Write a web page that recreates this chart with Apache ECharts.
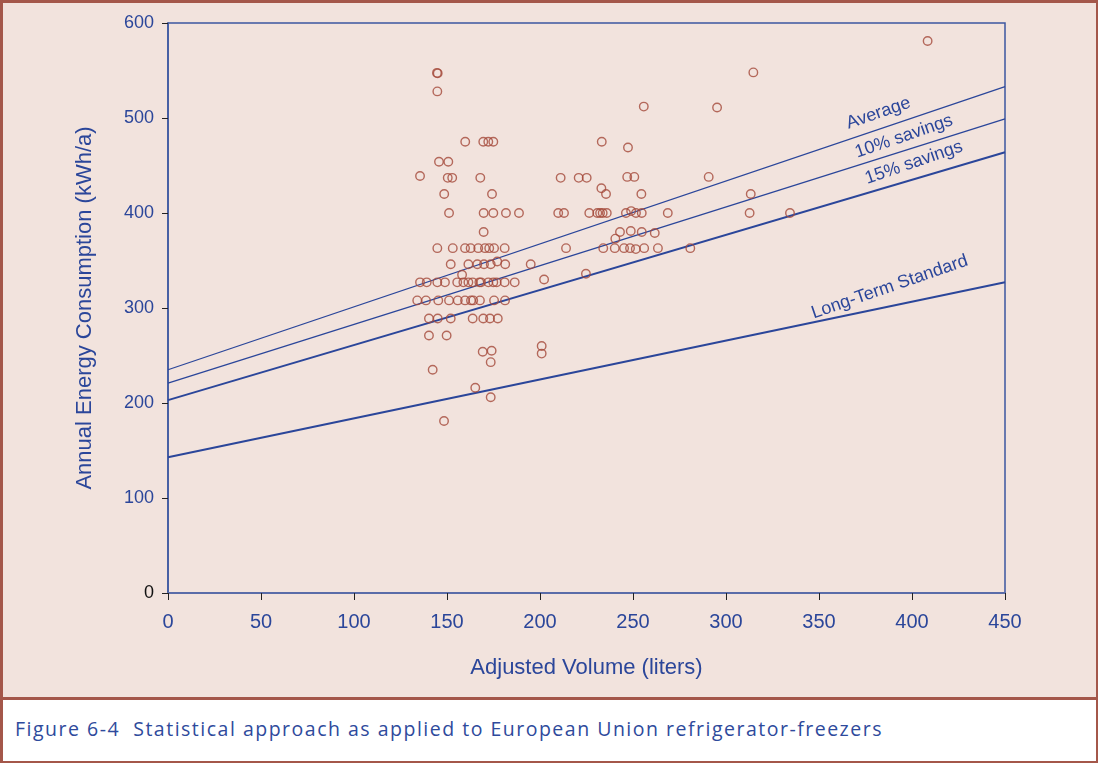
<!DOCTYPE html>
<html>
<head>
<meta charset="utf-8">
<script src="https://cdn.jsdelivr.net/npm/echarts@6/dist/echarts.min.js"></script>
<style>
  html, body { margin: 0; padding: 0; background: #fff; }
  #frame {
    position: absolute; left: 0; top: 0;
    width: 1098px; height: 763px; box-sizing: border-box;
    border-top: 3px solid #A4574A; border-left: 3px solid #A4574A;
    border-right: 2px solid #A4574A; border-bottom: 2px solid #A4574A;
  }
  #chart { width: 1093px; height: 694px; background: #F2E3DD; }
  #caption {
    border-top: 3px solid #A4574A;
    height: 61px; box-sizing: border-box;
    padding: 15px 0 0 12px;
    font-family: "Open Sans", "Noto Sans", sans-serif; font-size: 19.5px;
    color: #2E4A9C; letter-spacing: 1.5px;
  }
</style>
</head>
<body>
<div id="frame">
  <div id="chart"></div>
  <div id="caption">Figure 6-4&nbsp;&nbsp;Statistical approach as applied to European Union refrigerator-freezers</div>
</div>
<script>
// scatter points: [adjusted volume (l), annual consumption (kWh/a)]
const models = [
  [144.6, 547.5], [145, 547], [144.8, 528],
  [159.8, 475], [169.5, 475], [172.2, 475], [174.9, 475],
  [145.7, 454], [150.7, 454],
  [135.5, 439], [150.4, 437], [152.8, 437], [167.9, 437],
  [148.5, 420], [174.2, 420],
  [151.1, 400], [169.7, 400], [174.9, 400], [181.7, 400], [188.7, 400], [209.8, 400],
  [169.7, 380],
  [144.8, 363], [153.1, 363], [159.7, 363], [162.7, 363], [166.8, 363], [170.4, 363], [172.7, 363], [175.3, 363], [181.0, 363],
  [152.0, 346], [161.5, 346], [166.3, 346], [169.9, 346], [173.5, 346], [181.3, 346], [195.0, 346],
  [177.0, 349], [158.1, 335],
  [135.5, 327], [139.1, 327], [144.8, 327], [148.9, 327], [155.5, 327], [158.8, 327], [161.5, 327], [163.8, 327],
  [167.4, 327], [168.3, 327], [172.2, 327], [174.9, 327], [176.7, 327], [181.0, 327], [186.4, 327],
  [202.2, 330],
  [134.0, 308], [138.7, 308], [145.3, 308], [151.1, 308], [155.8, 308], [159.7, 308], [162.9, 308], [164.1, 308],
  [167.7, 308], [175.3, 308], [181.2, 308],
  [140.3, 289], [145.0, 289], [152.0, 289], [163.8, 289], [169.5, 289], [173.1, 289], [177.3, 289],
  [140.3, 271], [149.8, 271],
  [169.2, 254], [174.0, 255], [173.5, 243], [200.9, 260], [200.9, 252],
  [142.3, 235], [165.2, 216], [173.5, 206], [148.4, 181],
  [255.8, 512], [233.2, 475], [247.3, 469],
  [211.1, 437], [220.8, 437], [225.1, 437], [246.9, 438], [250.7, 438],
  [233.0, 426], [235.5, 420], [254.5, 420],
  [212.9, 400], [226.5, 400], [230.8, 400], [232.3, 400], [233.7, 400], [235.9, 400],
  [246.2, 400], [249.0, 402], [251.6, 400], [254.7, 400], [268.7, 400],
  [243.0, 380], [248.8, 381], [254.7, 380], [261.7, 379], [240.5, 373],
  [214.0, 363], [234.0, 363], [240.2, 363], [245.2, 363], [248.4, 363], [251.5, 362], [256.0, 363], [263.4, 363], [280.8, 363],
  [224.7, 336],
  [408.4, 581], [314.7, 548], [295.2, 511], [290.7, 438], [313.3, 420], [312.7, 400], [334.4, 400]
];

// regression-style lines, value at volume 0 and 450
const lineX = [0, 450];
const average = [235, 533];
const savings10 = [221, 499];
const savings15 = [203, 464];
const longTerm = [143, 327];

const lineNames = ["Average", "10% savings", "15% savings", "Long-Term Standard"];
const labelAt = [[382, 505], [395.7, 480.5], [401, 453], [388, 322]];

const blue = "#2B469A";
const font = "Liberation Sans, Arial, sans-serif";
const chart = echarts.init(document.getElementById("chart"));

const makeLine = (name, vals, width, idx) => ({
  name: name,
  type: "line",
  data: lineX.map((x, i) => [x, vals[i]]),
  symbol: "none",
  silent: true,
  lineStyle: { color: blue, width: width },
  z: 3,
  markPoint: {
    symbol: "circle",
    symbolSize: 0,
    silent: true,
    data: [{ coord: labelAt[idx] }],
    label: {
      show: true,
      formatter: name,
      rotate: 19,
      color: blue,
      fontFamily: font,
      fontSize: 18,
      position: "inside"
    }
  }
});

const option = {
  animation: false,
  grid: { left: 165, right: 91, top: 20, bottom: 104, show: true, borderColor: "#3D57A0", borderWidth: 1.5 },
  xAxis: {
    type: "value",
    min: 0, max: 450, interval: 50,
    name: "Adjusted Volume (liters)",
    nameLocation: "middle",
    nameGap: 64,
    nameTextStyle: { color: blue, fontSize: 22, fontFamily: font },
    axisLine: { show: true, lineStyle: { color: "#5A6CA8", width: 2 } },
    axisTick: { show: true, length: 7, lineStyle: { color: "#222" } },
    axisLabel: { color: blue, fontSize: 20, margin: 19, fontFamily: font },
    splitLine: { show: false }
  },
  yAxis: {
    type: "value",
    min: 0, max: 600, interval: 100,
    name: "Annual Energy Consumption (kWh/a)",
    nameLocation: "middle",
    nameGap: 72,
    nameTextStyle: { color: blue, fontSize: 22, fontFamily: font },
    axisLine: { show: true, lineStyle: { color: "#3D57A0", width: 1.5 } },
    axisTick: { show: true, length: 6, lineStyle: { color: "#222" } },
    axisLabel: {
      fontSize: 18, margin: 14,
      fontFamily: font,
      color: (v) => (Number(v) === 0 ? "#111" : blue)
    },
    splitLine: { show: false }
  },
  series: [
    makeLine(lineNames[0], average, 1.3, 0),
    makeLine(lineNames[1], savings10, 1.3, 1),
    makeLine(lineNames[2], savings15, 2, 2),
    makeLine(lineNames[3], longTerm, 2, 3),
    {
      name: "Models",
      type: "scatter",
      data: models,
      symbol: "circle",
      symbolSize: 8.5,
      z: 4,
      itemStyle: { color: "rgba(0,0,0,0)", borderColor: "#A4493A", borderWidth: 1.4 }
    }
  ]
};

option && chart.setOption(option);
</script>
</body>
</html>
